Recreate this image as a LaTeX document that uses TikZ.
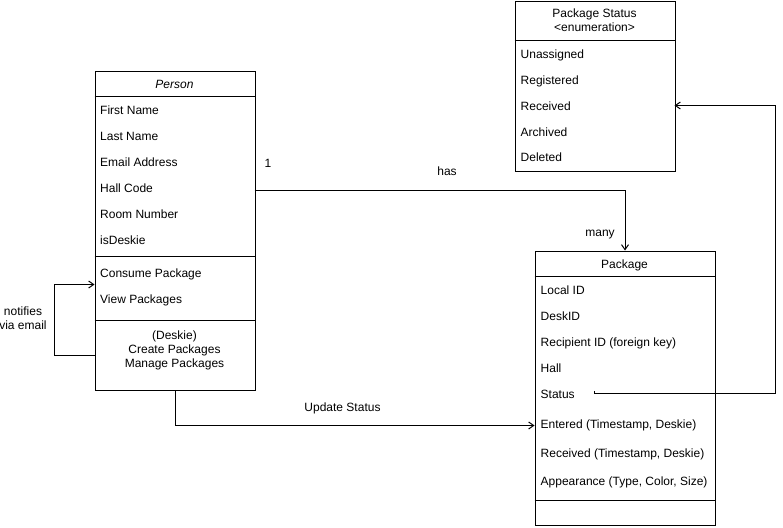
\documentclass[tikz,border=0pt]{standalone}
\usepackage{fontspec}
\setmainfont{Liberation Sans}
\usetikzlibrary{arrows.meta}
\tikzset{
  umlbox/.style={draw=black, line width=1pt, fill=white, inner sep=0pt, anchor=north west},
  sepline/.style={draw=black, line width=1pt},
  attr/.style={anchor=base west, inner sep=0pt, font=\fontsize{12}{14}\selectfont},
  ctext/.style={anchor=base, inner sep=0pt, font=\fontsize{12}{14}\selectfont},
  conn/.style={draw=black, line width=1pt, -{Straight Barb[length=5pt,width=7pt]}},
  plainconn/.style={draw=black, line width=1pt}
}
\begin{document}
\begin{tikzpicture}[x=1pt,y=-1pt]
\useasboundingbox (0,0) rectangle (783,527);
\fill[white] (0,0) rectangle (783,527);

% ---------- Person ----------
\node[umlbox, minimum width=160pt, minimum height=319.5pt] (person) at (94.5,70.5) {};
\draw[sepline] (94.5,96.5) -- (254.5,96.5);
\draw[sepline] (94.5,256.5) -- (254.5,256.5);
\draw[sepline] (94.5,320.5) -- (254.5,320.5);
\node[ctext, font=\fontsize{12}{14}\selectfont\itshape] (ptitle) at (174.5,88) {Person};
\node[attr] (p1) at (100,114) {First Name};
\node[attr] (p2) at (100,140) {Last Name};
\node[attr] (p3) at (100,166) {Email Address};
\node[attr] (p4) at (100,192) {Hall Code};
\node[attr] (p5) at (100,218) {Room Number};
\node[attr] (p6) at (100,244) {isDeskie};
\node[attr] (p7) at (100,277) {Consume Package};
\node[attr] (p8) at (100,303) {View Packages};
\node[ctext] (p9) at (174.5,339) {(Deskie)};
\node[ctext] (p10) at (174.5,353) {Create Packages};
\node[ctext] (p11) at (174.5,367) {Manage Packages};

% ---------- Package Status ----------
\node[umlbox, minimum width=160pt, minimum height=169.5pt] (pstatus) at (514.5,1.5) {};
\draw[sepline] (514.5,40.5) -- (674.5,40.5);
\node[ctext] (st1) at (594.5,18) {Package Status};
\node[ctext] (st2) at (594.5,31) {\textless enumeration\textgreater};
\node[attr] (e1) at (520.5,58) {Unassigned};
\node[attr] (e2) at (520.5,84) {Registered};
\node[attr] (e3) at (520.5,110) {Received};
\node[attr] (e4) at (520.5,136) {Archived};
\node[attr] (e5) at (520.5,161) {Deleted};

% ---------- Package ----------
\node[umlbox, minimum width=180pt, minimum height=274.5pt] (package) at (534.5,250.5) {};
\draw[sepline] (534.5,276.5) -- (714.5,276.5);
\draw[sepline] (534.5,500.5) -- (714.5,500.5);
\node[ctext] (kt) at (624.5,268) {Package};
\node[attr] (k1) at (540.5,294) {Local ID};
\node[attr] (k2) at (540.5,320) {DeskID};
\node[attr] (k3) at (540.5,346) {Recipient ID (foreign key)};
\node[attr] (k4) at (540.5,372) {Hall};
\node[attr] (k5) at (540.5,398) {Status};
\node[attr] (k6) at (540.5,428) {Entered (Timestamp, Deskie)};
\node[attr] (k7) at (540.5,457) {Received (Timestamp, Deskie)};
\node[attr] (k8) at (540.5,485) {Appearance (Type, Color, Size)};

% ---------- connector end points ----------
\coordinate (hasS) at (254.5,190.5);
\coordinate (updE) at (534.5,425.5);
\coordinate (statS) at (594,391);
\coordinate (statC) at (775.5,393.5);
\coordinate (recvE) at (674.5,105.5);
\coordinate (loopS) at (94.5,355.5);
\coordinate (loopC) at (54.5,355.5);
\coordinate (loopE) at (94.5,284.5);

% ---------- connectors ----------
\draw[conn] (hasS) -| (package.north);
\draw[conn] (person.south) |- (updE);
\draw[conn] (statS) |- (statC) |- (recvE);
\draw[conn] (loopS) -- (loopC) |- (loopE);

% ---------- labels ----------
\node[ctext] (l1) at (268,167) {1};
\node[ctext] (lhas) at (447,175) {has};
\node[ctext] (lmany) at (600,236) {many};
\node[ctext] (lupd) at (342.5,411) {Update Status};
\node[ctext] (lnot1) at (23,315) {notifies};
\node[ctext] (lnot2) at (23,329) {via email};
\end{tikzpicture}
\end{document}
